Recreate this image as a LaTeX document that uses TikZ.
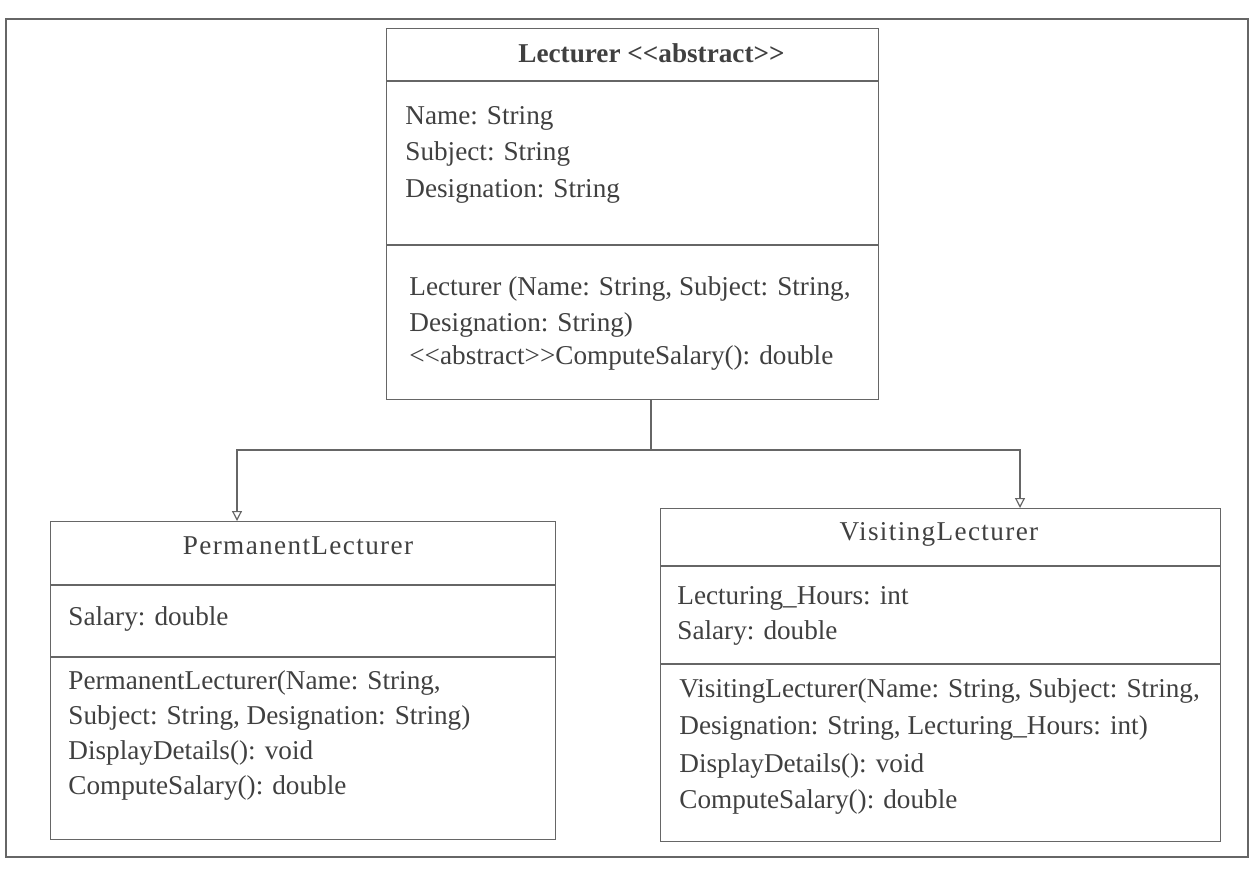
\documentclass[tikz,border=0pt]{standalone}
\usepackage{fontspec}
\setmainfont{Liberation Serif}
\usetikzlibrary{arrows.meta}
\newcommand{\lll}{{<}{<}}
\newcommand{\ggg}{{>}{>}}
\begin{document}
\begin{tikzpicture}[x=0.5pt,y=-0.5pt,
  box/.style={draw=black!60,line width=0.6pt,rectangle,inner sep=0pt,anchor=north west},
  sep/.style={draw=black!60,line width=0.6pt},
  txt/.style={anchor=west,inner sep=0pt,text=black!75,font=\fontsize{13.6pt}{16pt}\selectfont},
  ttl/.style={anchor=center,inner sep=0pt,text=black!75,font=\fontsize{13.6pt}{16pt}\selectfont\addfontfeature{LetterSpace=5}},
  conn/.style={draw=black!60,line width=0.6pt},
  inh/.style={conn,-{Triangle[open,length=5pt,width=5pt]}}]
\useasboundingbox (0,0) rectangle (1252,869);
% outer frame
\draw[sep] (6,19) rectangle (1248,857);

% Lecturer
\node[box,minimum width=246pt,minimum height=185.5pt] (lect) at (386,28) {};
\draw[sep] (lect.west |- 0,81) -- (lect.east |- 0,81);
\draw[sep] (lect.west |- 0,245) -- (lect.east |- 0,245);
\node[txt,font=\fontsize{13.6pt}{16pt}\selectfont\bfseries] (lt) at (518,53) {Lecturer \lll abstract\ggg};
\node[txt] (la1) at (405,118) {Name: String};
\node[txt] (la2) at (405,154) {Subject: String};
\node[txt] (la3) at (405,191) {Designation: String};
\node[txt] (lm1) at (409,289) {Lecturer (Name: String, Subject: String,};
\node[txt] (lm2) at (409,325) {Designation: String)};
\node[txt] (lm3) at (409,358) {\lll abstract\ggg ComputeSalary(): double};

% PermanentLecturer
\node[box,minimum width=252.5pt,minimum height=159pt] (perm) at (50,521) {};
\draw[sep] (perm.west |- 0,585) -- (perm.east |- 0,585);
\draw[sep] (perm.west |- 0,657) -- (perm.east |- 0,657);
\node[ttl] (pt) at (298,546) {PermanentLecturer};
\node[txt] (pa1) at (68,619) {Salary: double};
\node[txt] (pm1) at (68,683) {PermanentLecturer(Name: String,};
\node[txt] (pm2) at (68,718) {Subject: String, Designation: String)};
\node[txt] (pm3) at (68,753) {DisplayDetails(): void};
\node[txt] (pm4) at (68,788) {ComputeSalary(): double};

% VisitingLecturer
\node[box,minimum width=280pt,minimum height=166.5pt] (visit) at (660,508) {};
\draw[sep] (visit.west |- 0,566) -- (visit.east |- 0,566);
\draw[sep] (visit.west |- 0,664) -- (visit.east |- 0,664);
\node[ttl] (vt) at (939,534) {VisitingLecturer};
\node[txt] (va1) at (677,598) {Lecturing\_Hours: int};
\node[txt] (va2) at (677,633) {Salary: double};
\node[txt] (vm1) at (679,691) {VisitingLecturer(Name: String, Subject: String,};
\node[txt] (vm2) at (679,728) {Designation: String, Lecturing\_Hours: int)};
\node[txt] (vm3) at (679,766) {DisplayDetails(): void};
\node[txt] (vm4) at (679,802) {ComputeSalary(): double};

% connectors
\coordinate (j) at (651,450);
\coordinate (pin) at (237,521);
\coordinate (vin) at (1020,508);
\draw[conn] (lect.south -| j) -- (j);
\draw[inh] (j) -| (pin);
\draw[inh] (j) -| (vin);
\end{tikzpicture}
\end{document}
